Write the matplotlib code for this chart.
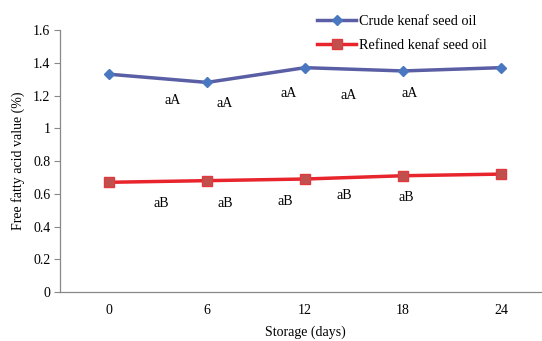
import matplotlib
matplotlib.use("Agg")
import matplotlib.pyplot as plt

plt.rcParams['font.family'] = ['Liberation Serif', 'DejaVu Serif']

days = [0, 6, 12, 18, 24]
crude = [1.33, 1.28, 1.37, 1.35, 1.37]
refined = [0.67, 0.68, 0.69, 0.71, 0.72]

# significance letters (x in days, y in data units)
crude_lbl = ["aA", "aA", "aA", "aA", "aA"]
crude_lbl_x = [3.9, 7.1, 11.0, 14.7, 18.4]
crude_lbl_y = [1.17, 1.15, 1.21, 1.20, 1.21]
refined_lbl = ["aB", "aB", "aB", "aB", "aB"]
refined_lbl_x = [3.2, 7.1, 10.8, 14.4, 18.2]
refined_lbl_y = [0.54, 0.54, 0.55, 0.59, 0.58]

fig = plt.figure(figsize=(5.42, 3.41), dpi=100)
ax = fig.add_axes([0.1107, 0.1437, 0.904, 0.7683])

ax.plot(days, crude, color='#5a5ea4', lw=2.5, marker='D', ms=5,
        mfc='#4a78c0', mec='#4a78c0', label='Crude kenaf seed oil', zorder=3)
ax.plot(days, refined, color='#e8242c', lw=2.5, marker='s', ms=7,
        mfc='#c0504d', mec='#e03a3f', label='Refined kenaf seed oil', zorder=3)

for t, x, y in zip(crude_lbl, crude_lbl_x, crude_lbl_y):
    ax.text(x, y, t, ha='center', va='center', fontsize=10)
for t, x, y in zip(refined_lbl, refined_lbl_x, refined_lbl_y):
    ax.text(x, y, t, ha='center', va='center', fontsize=10)

ax.set_xlim(-3, 27)
ax.set_ylim(0, 1.6)
ax.set_xticks(days)
ax.set_yticks([0, 0.2, 0.4, 0.6, 0.8, 1, 1.2, 1.4, 1.6])
ax.set_yticklabels(['0', '0.2', '0.4', '0.6', '0.8', '1', '1.2', '1.4', '1.6'])
ax.tick_params(axis='x', length=0, pad=9, labelsize=10)
ax.tick_params(axis='y', length=4, color='#888888', labelsize=10, pad=3)

for s in ['top', 'right']:
    ax.spines[s].set_visible(False)
for s in ['left', 'bottom']:
    ax.spines[s].set_color('#888888')
    ax.spines[s].set_linewidth(0.9)

ax.set_xlabel('Storage (days)', fontsize=10, labelpad=6)
ax.set_ylabel('Free fatty acid value (%)', fontsize=10, labelpad=6)

ax.legend(loc='upper left', bbox_to_anchor=(0.562, 0.994), bbox_transform=fig.transFigure,
          frameon=False, fontsize=10.3, handlelength=2.7, handletextpad=0.2,
          labelspacing=0.8)

fig.savefig('out.png', dpi=100)
